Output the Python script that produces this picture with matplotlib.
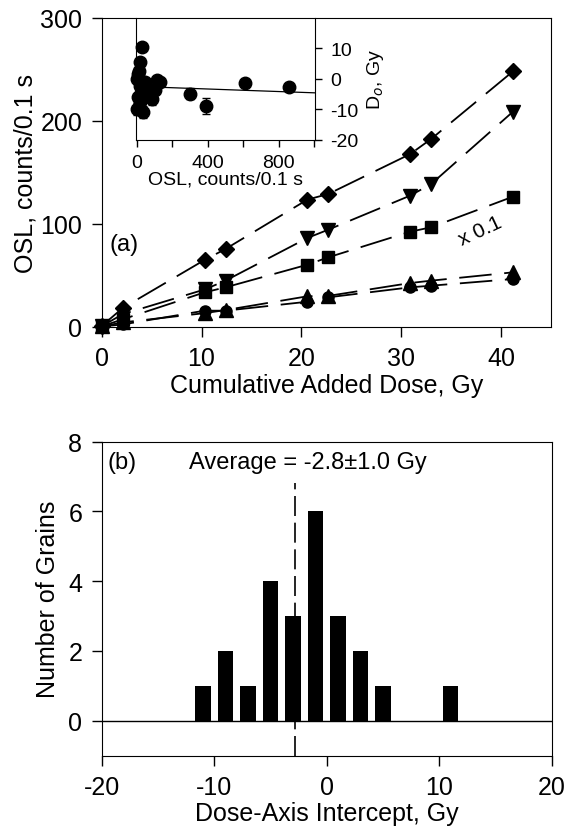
import matplotlib
matplotlib.use("Agg")
import matplotlib.pyplot as plt
from matplotlib.ticker import FixedLocator

plt.rcParams['font.family'] = ['Liberation Sans', 'DejaVu Sans']
plt.rcParams['axes.unicode_minus'] = False

# panel (a): OSL vs cumulative added dose
dose = [0, 2.1, 10.3, 12.4, 20.6, 22.7, 30.9, 33.0, 41.2]
osl_diamond = [0.5, 18, 64.7, 75.4, 123.4, 128.9, 167.7, 182.4, 248.2]
osl_tridown = [0.3, 12, 36, 44.6, 86.1, 94.2, 127.3, 138.6, 209]
osl_square = [0.2, 7, 33.2, 38.1, 60.1, 67.3, 92.2, 96.5, 126.3]
osl_triup = [0.1, 4, 13, 16, 29.4, 29.8, 42.3, 44.6, 52.7]
osl_circle = [0, 2, 15.4, 15.4, 24.1, 28.4, 38.1, 39.7, 46.2]

# inset: dose intercept vs OSL
ins_osl = [30, 17, 7, 0, 17, 45, 111, 130, 102, 83, 7, 2, 36, 17, 64, 25, 10, 300, 390, 609, 860]
ins_do = [10.4, 5.5, 1.6, 0, -2.2, -1.1, -0.5, -0.9, -3.8, -6.5, -6, -9.8, -10.9, -7.6, -3.3, -4.5, 2.5, -4.9, -8.9, -1.5, -2.6]
ins_err = [1, 1, 1, 1, 1, 1, 1, 1, 1, 2, 1, 2, 2, 1, 1, 1, 1, 1.8, 2.7, 0.8, 0.8]
fit_x = [0, 1005]
fit_y = [-2.5, -4.6]

# panel (b): histogram of dose-axis intercepts
bin_centers = [-11, -9, -7, -5, -3, -1, 1, 3, 5, 11]
grain_counts = [1, 2, 1, 4, 3, 6, 3, 2, 1, 1]
avg_intercept = -2.8

fig = plt.figure(figsize=(5.67, 8.37), dpi=100)

ax1 = fig.add_axes([0.1794, 0.6087, 0.7924, 0.3686])
dash = (18, 7)
series = [(osl_diamond, 'D', 8), (osl_tridown, 'v', 9.5), (osl_square, 's', 8),
          (osl_triup, '^', 9.5), (osl_circle, 'o', 8)]
for vals, mk, ms in series:
    ax1.plot(dose, vals, color='black', lw=1.3, dashes=dash, clip_on=False, zorder=2)
    ax1.plot(dose, vals, ls='none', marker=mk, ms=ms, color='black', clip_on=False, zorder=3)
ax1.set_xlim(0, 45)
ax1.set_ylim(0, 300)
ax1.set_xticks([0, 10, 20, 30, 40])
ax1.set_yticks([0, 100, 200, 300])
ax1.tick_params(direction='out', length=7, width=1, labelsize=18, pad=7)
ax1.set_xlabel('Cumulative Added Dose, Gy', fontsize=18, labelpad=2)
ax1.set_ylabel('OSL, counts/0.1 s', fontsize=18, labelpad=2)
ax1.text(2.2, 80, '(a)', fontsize=17, ha='center', va='center')
ax1.text(37.9, 93, 'x 0.1', fontsize=15, ha='center', va='center', rotation=25)

ins = fig.add_axes([0.2399, 0.8319, 0.3157, 0.1454])
ins.patch.set_alpha(0)
ins.errorbar(ins_osl, ins_do, yerr=ins_err, fmt='o', ms=9, color='black',
             ecolor='black', elinewidth=1, capsize=3, clip_on=False)
ins.plot(fit_x, fit_y, color='black', lw=0.9)
ins.set_xlim(-5, 1005)
ins.set_ylim(-20, 20)
ins.spines['top'].set_visible(False)
ins.yaxis.tick_right()
ins.yaxis.set_label_position('right')
ins.set_yticks([-20, -10, 0, 10])
ins.xaxis.set_major_locator(FixedLocator([0, 400, 800]))
ins.xaxis.set_minor_locator(FixedLocator([200, 600, 1000]))
ins.tick_params(which='both', direction='out', length=5, width=1, labelsize=14, pad=5)
ins.tick_params(axis='y', pad=6)
ins.set_xlabel('OSL, counts/0.1 s', fontsize=14, labelpad=0)
ins.set_ylabel('D$_o$, Gy', fontsize=14, labelpad=5, rotation=90)

ax2 = fig.add_axes([0.1794, 0.0959, 0.7937, 0.3754])
ax2.bar(bin_centers, grain_counts, width=1.4, color='black', zorder=3)
ax2.axhline(0, color='black', lw=1)
ax2.plot([avg_intercept, avg_intercept], [-1, 6.8], color='black', lw=1.2, dashes=(12, 4))
ax2.set_xlim(-20, 20)
ax2.set_ylim(-1, 8)
ax2.set_xticks([-20, -10, 0, 10, 20])
ax2.set_yticks([0, 2, 4, 6, 8])
ax2.tick_params(direction='out', length=7, width=1, labelsize=18, pad=7)
ax2.set_xlabel('Dose-Axis Intercept, Gy', fontsize=18, labelpad=1)
ax2.set_ylabel('Number of Grains', fontsize=18, labelpad=6)
ax2.text(-18.2, 7.4, '(b)', fontsize=17, ha='center', va='center')
ax2.text(-1.7, 7.4, 'Average = -2.8\u00b11.0 Gy', fontsize=17, ha='center', va='center')

fig.savefig('out.png', dpi=100)
